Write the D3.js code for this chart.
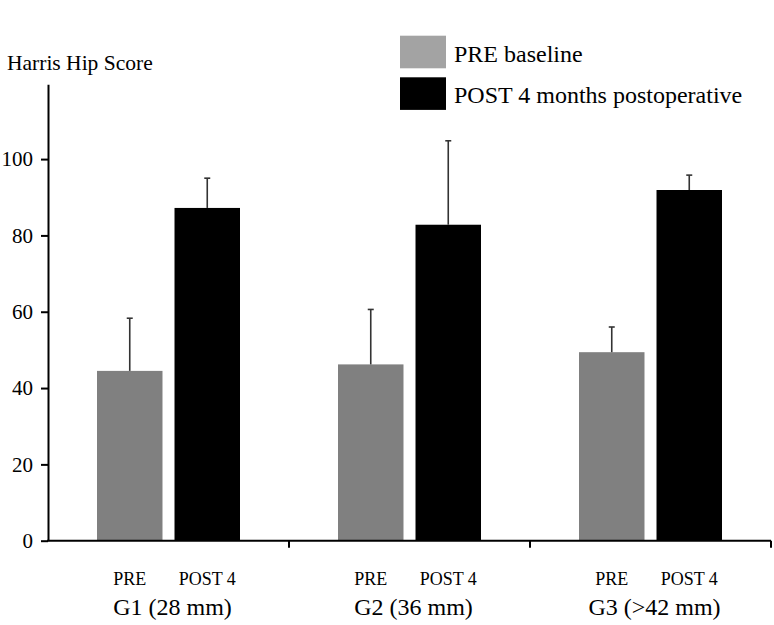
<!DOCTYPE html>
<html>
<head>
<meta charset="utf-8">
<script src="https://cdn.jsdelivr.net/npm/d3@7"></script>
<style>
  body { margin: 0; background: #fff; }
  svg { display: block; }
  text { font-family: "Liberation Serif", "Times New Roman", serif; fill: #000; }
</style>
</head>
<body>
<svg id="chart" width="774" height="625"></svg>
<script>
// ---- data ----
const groups = ["G1 (28 mm)", "G2 (36 mm)", "G3 (>42 mm)"];
const timepoints = ["PRE", "POST"];
const timepointLabels = ["PRE", "POST 4"];
const preMean = [44.5, 46.2, 49.4];
const preSD = [13.8, 14.4, 6.6];
const postMean = [87.2, 82.8, 91.9];
const postSD = [7.8, 22.0, 3.9];
const yTicks = [0, 20, 40, 60, 80, 100];
const legendLabels = ["PRE baseline", "POST 4 months postoperative"];
const yTitle = "Harris Hip Score";

const barColors = { PRE: "#808080", POST: "#000000" };
const legendColors = ["#a3a3a3", "#000000"];

const rows = [];
groups.forEach((g, i) => {
  rows.push({ group: g, tp: "PRE", mean: preMean[i], sd: preSD[i] });
  rows.push({ group: g, tp: "POST", mean: postMean[i], sd: postSD[i] });
});

const svg = d3.select("#chart");
const x0 = 48, x1 = 771, yBottom = 540.7, yTop = 84.3;

const x = d3.scaleBand().domain(groups).range([x0, x1]).padding(0);
const xi = d3.scaleBand().domain(timepoints).range([49, 192]).paddingInner(0.155).paddingOuter(0);
const y = d3.scaleLinear().domain([0, 119.6]).range([yBottom, yTop]);

// bars
svg.append("g").selectAll("rect").data(rows).join("rect")
  .attr("x", d => x(d.group) + xi(d.tp))
  .attr("y", d => y(d.mean))
  .attr("width", xi.bandwidth())
  .attr("height", d => y(0) - y(d.mean))
  .attr("fill", d => barColors[d.tp]);

// error bars
const eb = svg.append("g").attr("stroke", "#333").attr("stroke-width", 1.6);
rows.forEach(d => {
  const cx = x(d.group) + xi(d.tp) + xi.bandwidth() / 2;
  eb.append("line").attr("x1", cx).attr("x2", cx)
    .attr("y1", y(d.mean)).attr("y2", y(d.mean + d.sd));
  eb.append("line").attr("x1", cx - 3).attr("x2", cx + 3)
    .attr("y1", y(d.mean + d.sd)).attr("y2", y(d.mean + d.sd));
});

// y axis
const yAxis = svg.append("g").attr("transform", `translate(${x0},0)`)
  .call(d3.axisLeft(y).tickValues(yTicks).tickSize(7).tickPadding(8).tickSizeOuter(0));
yAxis.select(".domain").attr("stroke-width", 2);
yAxis.selectAll(".tick line").attr("stroke-width", 2);
yAxis.selectAll(".tick text").style("font-size", "21px")
  .style("font-family", '"Liberation Serif", "Times New Roman", serif');

// x axis
const xAxisG = svg.append("g").attr("transform", `translate(0,${yBottom})`);
xAxisG.append("line").attr("x1", x0 - 1).attr("x2", x1).attr("y1", 0).attr("y2", 0)
  .attr("stroke", "#000").attr("stroke-width", 2);
xAxisG.selectAll("line.tk").data(groups).join("line").attr("class", "tk")
  .attr("x1", d => x(d) + x.bandwidth()).attr("x2", d => x(d) + x.bandwidth())
  .attr("y1", 0).attr("y2", 7).attr("stroke", "#000").attr("stroke-width", 2);

// sub labels
svg.append("g").selectAll("text").data(rows).join("text")
  .attr("x", d => x(d.group) + xi(d.tp) + xi.bandwidth() / 2)
  .attr("y", 585)
  .attr("text-anchor", "middle")
  .style("font-size", "18px")
  .text(d => timepointLabels[timepoints.indexOf(d.tp)]);

// group labels
svg.append("g").selectAll("text").data(groups).join("text")
  .attr("x", d => x(d) + x.bandwidth() / 2 + 4)
  .attr("y", 615)
  .attr("text-anchor", "middle")
  .style("font-size", "24px")
  .text(d => d);

// y title
svg.append("text").attr("x", 7).attr("y", 70).style("font-size", "21.5px").text(yTitle);

// legend
const lg = svg.append("g");
legendLabels.forEach((l, i) => {
  lg.append("rect").attr("x", 400).attr("y", 35.7 + i * 41.6).attr("width", 46).attr("height", 32.6)
    .attr("fill", legendColors[i]);
  lg.append("text").attr("x", 454).attr("y", 61.7 + i * 41).style("font-size", "24px").text(l);
});
</script>
</body>
</html>
